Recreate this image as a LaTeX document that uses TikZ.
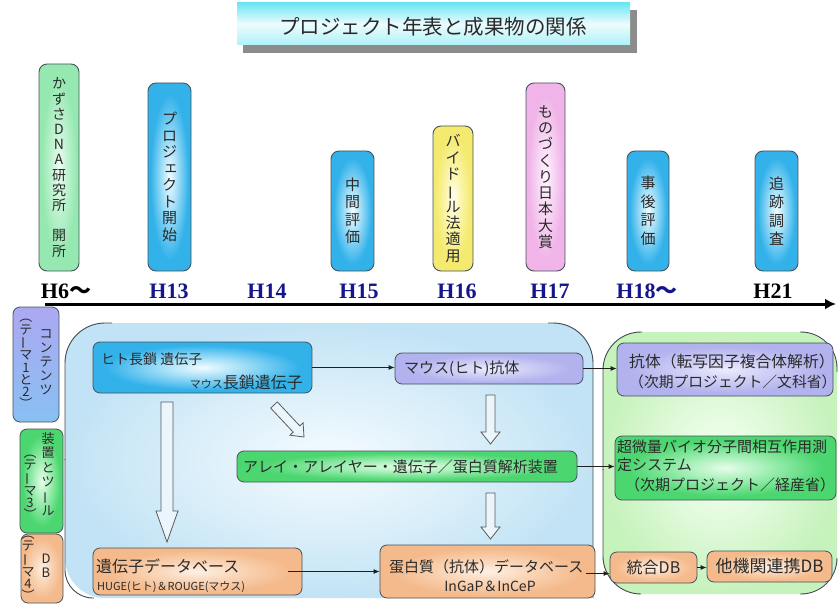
\documentclass[tikz,border=0pt]{standalone}
\usepackage{fontspec}
\usepackage{graphicx}
\usetikzlibrary{arrows.meta}
\newfontfamily\jp{Noto Sans CJK JP}
\newfontfamily\yr{Liberation Serif}
% vertical-writing helpers
\newcommand\vbar{\rotatebox[origin=c]{90}{ー}}
\newcommand\vlp{︵}
\newcommand\vrp{︶}
\newcommand\vsmall[1]{\hspace*{0.18em}\raisebox{0.14em}{#1}}

\definecolor{edgeC}{HTML}{46525C}
\definecolor{txtC}{HTML}{2A2A2A}
\definecolor{navyC}{HTML}{16168C}
\definecolor{lineC}{HTML}{202020}
\definecolor{regC}{HTML}{404A50}
\definecolor{hollowC}{HTML}{5A5A5A}
\definecolor{hollowF}{HTML}{EAF5FC}
\definecolor{shadowC}{HTML}{8C8C8C}
\definecolor{titC}{HTML}{6CE6F4}
\definecolor{contT}{HTML}{ACA8F2}
\definecolor{contB}{HTML}{88C0F2}

\definecolor{bl0}{HTML}{F2FBFF}\definecolor{bl1}{HTML}{A6E0F8}\definecolor{bl2}{HTML}{33B2EA}
\definecolor{gl0}{HTML}{F0FCF4}\definecolor{gl1}{HTML}{C4F4D4}\definecolor{gl2}{HTML}{94E8B0}
\definecolor{ye0}{HTML}{FFFEF2}\definecolor{ye1}{HTML}{FCF6B0}\definecolor{ye2}{HTML}{F4EA70}
\definecolor{pk0}{HTML}{FFF6FE}\definecolor{pk1}{HTML}{F9DAF5}\definecolor{pk2}{HTML}{F0B4E8}
\definecolor{lv0}{HTML}{ECECFD}\definecolor{lv1}{HTML}{D2D2F7}\definecolor{lv2}{HTML}{B2B2EE}
\definecolor{gr0}{HTML}{E6FCEA}\definecolor{gr1}{HTML}{A6F0B8}\definecolor{gr2}{HTML}{4CD670}
\definecolor{or0}{HTML}{FEF0E4}\definecolor{or1}{HTML}{FAD8BC}\definecolor{or2}{HTML}{F4BA8C}
\definecolor{rb0}{HTML}{F6FBFF}\definecolor{rb1}{HTML}{DDF0FA}\definecolor{rb2}{HTML}{C2E3F5}
\definecolor{rg0}{HTML}{F8FFF4}\definecolor{rg1}{HTML}{E0FADA}\definecolor{rg2}{HTML}{C6F2BC}

\pgfdeclareradialshading{sBlue}{\pgfpoint{0bp}{0bp}}{color(0bp)=(bl0); color(9bp)=(bl1); color(22bp)=(bl2); color(50bp)=(bl2)}
\pgfdeclareradialshading{sGreenL}{\pgfpoint{0bp}{0bp}}{color(0bp)=(gl0); color(9bp)=(gl1); color(22bp)=(gl2); color(50bp)=(gl2)}
\pgfdeclareradialshading{sYel}{\pgfpoint{0bp}{0bp}}{color(0bp)=(ye0); color(9bp)=(ye1); color(22bp)=(ye2); color(50bp)=(ye2)}
\pgfdeclareradialshading{sPink}{\pgfpoint{0bp}{0bp}}{color(0bp)=(pk0); color(9bp)=(pk1); color(22bp)=(pk2); color(50bp)=(pk2)}
\pgfdeclareradialshading{sLav}{\pgfpoint{0bp}{0bp}}{color(0bp)=(lv0); color(9bp)=(lv1); color(22bp)=(lv2); color(50bp)=(lv2)}
\pgfdeclareradialshading{sGreen}{\pgfpoint{0bp}{0bp}}{color(0bp)=(gr0); color(9bp)=(gr1); color(22bp)=(gr2); color(50bp)=(gr2)}
\pgfdeclareradialshading{sOrg}{\pgfpoint{0bp}{0bp}}{color(0bp)=(or0); color(9bp)=(or1); color(22bp)=(or2); color(50bp)=(or2)}
\pgfdeclareradialshading{sRegBlue}{\pgfpoint{0bp}{0bp}}{color(0bp)=(rb0); color(12bp)=(rb1); color(25bp)=(rb2); color(50bp)=(rb2)}
\pgfdeclareradialshading{sRegGreen}{\pgfpoint{0bp}{0bp}}{color(0bp)=(rg0); color(12bp)=(rg1); color(25bp)=(rg2); color(50bp)=(rg2)}

\tikzset{
  box/.style={draw=edgeC, line width=0.8pt, rounded corners=7pt, inner sep=0pt, text=txtC},
  tlbox/.style={box, rounded corners=8pt, line width=0.9pt, align=center},
  vt/.style={align=center, inner sep=0pt, text=txtC},
  yl/.style={anchor=base, font=\yr\bfseries\fontsize{22}{24}\selectfont, text=navyC, inner sep=0pt},
  conn/.style={draw=lineC, line width=0.8pt, -{Latex[length=6pt,width=5pt]}},
  hollow/.style={draw=hollowC, line width=0.8pt, fill=hollowF, line join=miter},
  txt/.style={inner sep=0pt, text=txtC},
  regline/.style={draw=regC, line width=0.9pt},
}

\begin{document}
\begin{tikzpicture}[x=1pt,y=-1pt]
\useasboundingbox (0,0) rectangle (838,607);

% ---------- title ----------
\fill[shadowC] (243,10) rectangle (637,53);
\node[inner sep=0pt, minimum width=393pt, minimum height=42pt,
      top color=titC, bottom color=titC!55!white, middle color=white!88!titC] (title) at (433.5,24) {};
\node[txt, font={\jp\fontsize{20.5}{22}\selectfont}] (titletxt) at (433,27) {プロジェクト年表と成果物の関係};

% ---------- timeline boxes ----------
\node[tlbox, shading=sGreenL, minimum width=40pt, minimum height=207pt,
      font={\jp\fontsize{14}{15.2}\selectfont}] (kazusa) at (59,167.5)
      {か\\ず\\さ\\D\\N\\A\\研\\究\\所\\[15.2pt]開\\所};
\node[tlbox, shading=sBlue, minimum width=43pt, minimum height=188pt,
      font={\jp\fontsize{15}{16.5}\selectfont}] (proj) at (169.5,177)
      {プ\\ロ\\ジ\\\vsmall{ェ}\\ク\\ト\\開\\始};
\node[tlbox, shading=sBlue, minimum width=43pt, minimum height=120pt,
      font={\jp\fontsize{15}{17.5}\selectfont}] (chukan) at (352.5,211)
      {中\\間\\評\\価};
\node[tlbox, shading=sYel, minimum width=40pt, minimum height=145pt,
      font={\jp\fontsize{15}{16.3}\selectfont}] (baido) at (453,198.5)
      {バ\\イ\\ド\\\vbar\\ル\\法\\適\\用};
\node[tlbox, shading=sPink, minimum width=39pt, minimum height=188pt,
      font={\jp\fontsize{15}{16.3}\selectfont}] (mono) at (545.5,177)
      {も\\の\\づ\\く\\り\\日\\本\\大\\賞};
\node[tlbox, shading=sBlue, minimum width=42pt, minimum height=120pt,
      font={\jp\fontsize{15}{18.5}\selectfont}] (jigo) at (648,211)
      {事\\後\\評\\価};
\node[tlbox, shading=sBlue, minimum width=43pt, minimum height=120pt,
      font={\jp\fontsize{15}{18.5}\selectfont}] (tsui) at (776.5,211)
      {追\\跡\\調\\査};

% ---------- year labels ----------
\node[yl, text=black] (y6) at (66,298) {H6{\jp ～}};
\node[yl] (y13) at (169,298) {H13};
\node[yl] (y14) at (267,298) {H14};
\node[yl] (y15) at (359,298) {H15};
\node[yl] (y16) at (457,298) {H16};
\node[yl] (y17) at (550,298) {H17};
\node[yl] (y18) at (647,298) {H18{\jp ～}};
\node[yl, text=black] (y21) at (773,298) {H21};

% ---------- time axis ----------
\coordinate (tls) at (45,304);
\coordinate (tle) at (836,304);
\draw[line width=3pt, -{Latex[length=11pt,width=11pt]}] (tls) -- (tle);

% ---------- regions ----------
\path[shading=sRegBlue, rounded corners=40pt] (65,323) rectangle (593,598);
\draw[regline, rounded corners=40pt] (112,323) -- (65,323) -- (65,460);
\draw[regline, rounded corners=28pt] (65,459) -- (65,598) -- (94,598);
\draw[regline, rounded corners=40pt] (548,323) -- (593,323) -- (593,598);

\path[shading=sRegGreen, rounded corners=38pt] (603,332) rectangle (837,594);
\draw[regline, rounded corners=38pt] (642,332) -- (603,332) -- (603,470);
\draw[regline, rounded corners=38pt] (603,469) -- (603,594) -- (641,594);
\draw[regline, rounded corners=36pt] (800,332) -- (837,332) -- (837,372);
\draw[regline, rounded corners=36pt] (837,560) -- (837,594) -- (800,594);

% ---------- left theme labels ----------
\node[box, top color=contT, bottom color=contB, minimum width=46pt, minimum height=115pt] (cont) at (36,364.5) {};
\node[vt, font={\jp\fontsize{13}{14}\selectfont}] (contA) at (46,362) {コ\\ン\\テ\\ン\\ツ};
\node[vt, font={\jp\fontsize{13}{12.2}\selectfont}] (contB) at (26,364) {\vlp\\テ\\\vbar\\マ\\1\\と\\2\\\vrp};

\node[box, shading=sGreen, minimum width=43pt, minimum height=104pt] (souchi) at (41.5,481) {};
\node[vt, font={\jp\fontsize{13}{14.5}\selectfont}] (souchiA) at (48,474) {装\\置\\と\\ツ\\\vbar\\ル};
\node[vt, font={\jp\fontsize{13}{12}\selectfont}] (souchiB) at (30,487) {\vlp\\テ\\\vbar\\マ\\3\\\vrp};

\node[box, shading=sOrg, minimum width=42pt, minimum height=69pt] (dbl) at (42,568.5) {};
\node[vt, font={\jp\fontsize{13}{14}\selectfont}] (dblA) at (46,566) {D\\B};
\node[vt, font={\jp\fontsize{13}{12}\selectfont}] (dblB) at (28,568) {\vlp\\テ\\\vbar\\マ\\4\\\vrp};

% ---------- blue region nodes ----------
\node[box, shading=sBlue, minimum width=219pt, minimum height=51pt] (hito) at (202.5,367.5) {};
\node[txt, anchor=west, font={\jp\fontsize{14}{16}\selectfont}] (hitoA) at (101,359) {ヒト長鎖 遺伝子};
\node[txt, anchor=east, font={\jp\fontsize{16}{18}\selectfont}] (hitoB) at (303,382) {{\fontsize{11}{13}\selectfont マウス}長鎖遺伝子};

\node[box, shading=sLav, minimum width=188pt, minimum height=31pt] (mausu) at (489,368.5) {};
\node[txt, anchor=west, font={\jp\fontsize{15}{17}\selectfont}] (mausut) at (404,369) {マウス(ヒト)抗体};

\node[box, shading=sGreen, minimum width=340pt, minimum height=31pt] (alei) at (407,466.5) {};
\node[txt, anchor=west, font={\jp\fontsize{15}{17}\selectfont}] (aleit) at (243,467) {アレイ・アレイヤー・遺伝子／蛋白質解析装置};

\node[box, shading=sOrg, minimum width=209pt, minimum height=47pt] (idb) at (197.5,571.5) {};
\node[txt, anchor=west, font={\jp\fontsize{16}{18}\selectfont}] (idbA) at (96,566) {遺伝子データベース};
\node[txt, anchor=west, font={\jp\fontsize{11}{13}\selectfont}] (idbB) at (97,587) {HUGE(ヒト)＆ROUGE(マウス)};

\node[box, shading=sOrg, minimum width=215pt, minimum height=53pt] (pdb) at (487.5,571.5) {};
\node[txt, anchor=west, font={\jp\fontsize{15}{17}\selectfont}] (pdbA) at (389,567) {蛋白質（抗体）データベース};
\node[txt, font={\jp\fontsize{14}{16}\selectfont}] (pdbB) at (490,586) {InGaP＆InCeP};

% ---------- green region nodes ----------
\node[box, shading=sLav, minimum width=216pt, minimum height=53pt] (kotai) at (725,369.5) {};
\node[txt, anchor=west, font={\jp\fontsize{15.8}{18}\selectfont}] (kotaiA) at (629,361) {抗体（転写因子複合体解析）};
\node[txt, anchor=west, font={\jp\fontsize{14.8}{17}\selectfont}] (kotaiB) at (629,382) {（次期プロジェクト／文科省）};

\node[box, shading=sGreen, minimum width=221pt, minimum height=64pt] (chobi) at (725.5,468) {};
\node[txt, anchor=west, font={\jp\fontsize{15}{17}\selectfont}] (chobiA) at (617,447) {超微量バイオ分子間相互作用測};
\node[txt, anchor=west, font={\jp\fontsize{15}{17}\selectfont}] (chobiB) at (617,465) {定システム};
\node[txt, anchor=west, font={\jp\fontsize{15}{17}\selectfont}] (chobiC) at (625,485) {（次期プロジェクト／経産省）};

\node[box, shading=sOrg, minimum width=87pt, minimum height=31pt, font={\jp\fontsize{16}{18}\selectfont}] (togo) at (653.5,567.5) {統合DB};
\node[box, shading=sOrg, minimum width=125pt, minimum height=31pt, font={\jp\fontsize{17}{19}\selectfont}] (taki) at (769.5,566.5) {他機関連携DB};

% ---------- hollow block arrows ----------
\draw[hollow] (161,402) -- (173,402) -- (173,511) -- (178,511) -- (167,542) -- (156,511) -- (161,511) -- cycle;
\draw[hollow] (277.3,401.9) -- (299.8,425.9) -- (303.1,422.8) -- (304,437) -- (289.9,435.2) -- (293.2,432.1) -- (270.7,408.1) -- cycle;
\draw[hollow] (486,395) -- (495,395) -- (495,432) -- (500,432) -- (490.5,444) -- (481,432) -- (486,432) -- cycle;
\draw[hollow] (486,493) -- (495,493) -- (495,527) -- (500,527) -- (490.5,539) -- (481,527) -- (486,527) -- cycle;

% ---------- connectors ----------
\draw[conn] (hito.east) -- (hito.east -| mausu.west);
\draw[conn] (mausu.east) -- (mausu.east -| kotai.west);
\draw[conn] (alei.east) -- (alei.east -| chobi.west);
\draw[conn] ([xshift=-14pt]idb.east) -- (idb.east -| pdb.west);
\draw[conn] ([xshift=-9pt,yshift=-2pt]pdb.east) -- ([yshift=-2pt]pdb.east -| togo.west);
\draw[conn] (togo.east) -- (togo.east -| taki.west);
\end{tikzpicture}
\end{document}
